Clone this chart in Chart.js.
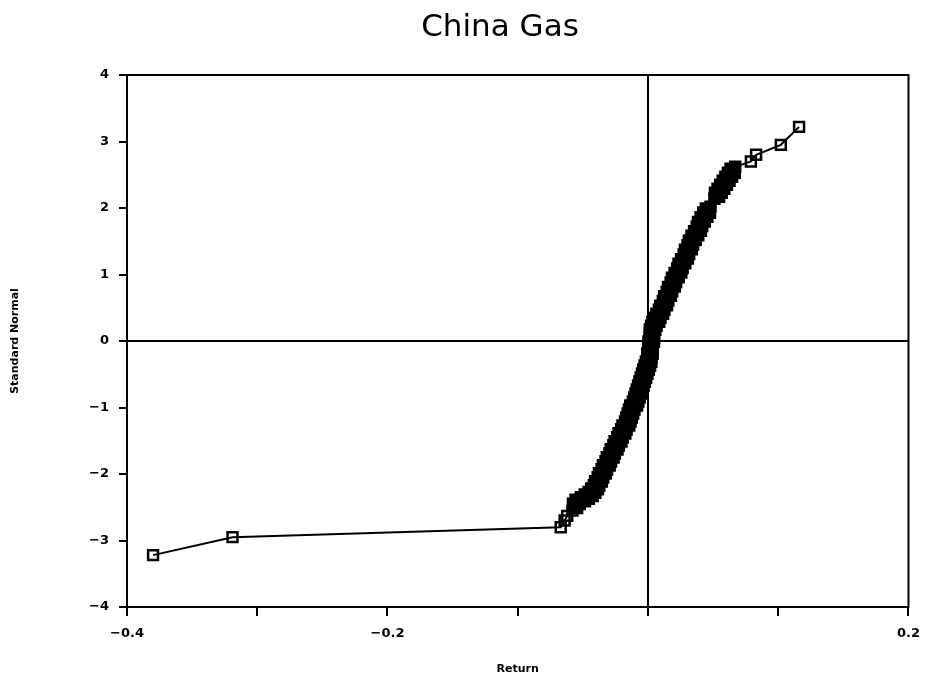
<!DOCTYPE html>
<html>
<head>
<meta charset="utf-8">
<script src="https://cdn.jsdelivr.net/npm/chart.js@4/dist/chart.umd.min.js"></script>
<style>
	html, body { margin: 0; padding: 0; background: #fff; }
	#wrap { width: 930px; height: 681px; }
</style>
</head>
<body>
<div id="wrap"><canvas id="chart" width="930" height="681"></canvas></div>
<script>
let titleText = "China Gas";
let xTitle = "Return";
let yTitle = "Standard Normal";

// sorted returns vs. standard normal quantiles
let returns = [
	-0.380, -0.319, -0.067, -0.064, -0.062, -0.058, -0.056, -0.054, -0.050, -0.047,
	-0.044, -0.042, -0.040, -0.039, -0.037, -0.036, -0.034, -0.033, -0.031, -0.030,
	-0.028, -0.027, -0.025, -0.024, -0.022, -0.021, -0.019, -0.018, -0.016, -0.015,
	-0.014, -0.013, -0.012, -0.010, -0.009, -0.008, -0.007, -0.006, -0.005, -0.004,
	-0.003, -0.002, -0.001, 0.000, 0.001, 0.001, 0.002, 0.002, 0.002, 0.003,
	0.003, 0.003, 0.004, 0.005, 0.007, 0.008, 0.010, 0.011, 0.013, 0.014,
	0.016, 0.017, 0.019, 0.020, 0.022, 0.024, 0.025, 0.027, 0.029, 0.030,
	0.032, 0.033, 0.035, 0.037, 0.039, 0.040, 0.042, 0.044, 0.046, 0.048,
	0.051, 0.053, 0.055, 0.057, 0.059, 0.061, 0.063, 0.065, 0.067, 0.079,
	0.083, 0.102, 0.116,
];
let normals = [
	-3.22, -2.95, -2.80, -2.70, -2.63, -2.55, -2.48, -2.42, -2.38, -2.34,
	-2.30, -2.25, -2.20, -2.14, -2.08, -2.02, -1.96, -1.90, -1.84, -1.78,
	-1.72, -1.66, -1.60, -1.54, -1.48, -1.42, -1.36, -1.30, -1.24, -1.18,
	-1.12, -1.06, -1.00, -0.94, -0.88, -0.82, -0.76, -0.70, -0.64, -0.58,
	-0.52, -0.46, -0.40, -0.34, -0.28, -0.22, -0.16, -0.10, -0.04, 0.02,
	0.08, 0.14, 0.20, 0.26, 0.32, 0.38, 0.44, 0.50, 0.57, 0.64,
	0.71, 0.78, 0.85, 0.92, 0.99, 1.06, 1.13, 1.20, 1.27, 1.34,
	1.41, 1.48, 1.55, 1.62, 1.69, 1.76, 1.83, 1.90, 1.96, 2.02,
	2.14, 2.20, 2.26, 2.32, 2.38, 2.44, 2.50, 2.56, 2.62, 2.70,
	2.80, 2.95, 3.22,
];
let xLabeled = [-0.4, -0.2, 0.2];

let fmt = (v) => {
	let s = String(Math.abs(Math.round(v * 10) / 10));
	return v < -1e-9 ? "\u2212" + s : s;
};

// markers in the packed middle of the curve print as a solid black band
let isPacked = (i) => {
	if (i <= 0 || i >= normals.length - 1) return false;
	return normals[i] - normals[i - 1] < 0.075 && normals[i + 1] - normals[i] < 0.075;
};

let whiteBg = {
	id: "whiteBg",
	beforeDraw: (chart) => {
		let ctx = chart.ctx;
		ctx.save();
		ctx.fillStyle = "#fff";
		ctx.fillRect(0, 0, chart.width, chart.height);
		ctx.restore();
	},
};

let frameAndTitle = {
	id: "frameAndTitle",
	afterDraw: (chart) => {
		let ctx = chart.ctx;
		let a = chart.chartArea;
		ctx.save();
		ctx.strokeStyle = "#000";
		ctx.lineWidth = 2;
		ctx.strokeRect(a.left, a.top, a.right - a.left, a.bottom - a.top);
		ctx.fillStyle = "#000";
		ctx.font = "31px 'DejaVu Sans'";
		ctx.textAlign = "center";
		ctx.textBaseline = "middle";
		ctx.fillText(titleText, 500, 28);
		ctx.restore();
	},
};

let renderChart = () => {
	let el = document.getElementById("chart");
	new Chart(el, {
		type: "line",
		data: {
			datasets: [
				{
					label: "China Gas",
					data: returns.map((r, i) => ({ x: r, y: normals[i] })),
					borderColor: "#000",
					borderWidth: 2,
					tension: 0,
					pointStyle: "rect",
					pointRadius: (c) => (isPacked(c.dataIndex) ? 10 : 7),
					pointBorderWidth: 2.5,
					pointBorderColor: "#000",
					pointBackgroundColor: (c) => (isPacked(c.dataIndex) ? "#000" : "rgba(0,0,0,0)"),
					fill: false,
				},
			],
		},
		options: {
			responsive: false,
			animation: false,
			layout: { padding: { top: 75, right: 17, bottom: 0, left: 0 } },
			plugins: {
				legend: { display: false },
				tooltip: { enabled: false },
				title: { display: false },
			},
			scales: {
				x: {
					type: "linear",
					min: -0.4,
					max: 0.2,
					afterFit: (s) => { s.height = 74; },
					ticks: {
						stepSize: 0.1,
						autoSkip: false,
						maxRotation: 0,
						padding: 10,
						color: "#000",
						font: { family: "'DejaVu Sans'", size: 13, weight: "bold" },
						callback: (v) => xLabeled.some((t) => Math.abs(t - v) < 1e-6) ? fmt(v) : "",
					},
					grid: {
						drawOnChartArea: true,
						drawTicks: true,
						tickLength: 9,
						tickColor: "#000",
						tickWidth: 2,
						lineWidth: 2,
						color: (c) => (c.tick && Math.abs(c.tick.value) < 1e-9 ? "#000" : "rgba(0,0,0,0)"),
					},
					border: { display: true, color: "#000", width: 2 },
					title: {
						display: true,
						text: xTitle,
						color: "#000",
						font: { family: "'DejaVu Sans'", size: 11, weight: "bold" },
						padding: { top: 0, bottom: 5 },
					},
				},
				y: {
					min: -4,
					max: 4,
					afterFit: (s) => { s.width = 127; },
					ticks: {
						stepSize: 1,
						padding: 10,
						color: "#000",
						font: { family: "'DejaVu Sans'", size: 13, weight: "bold" },
						callback: (v) => fmt(v),
					},
					grid: {
						drawOnChartArea: true,
						drawTicks: true,
						tickLength: 8,
						tickColor: "#000",
						tickWidth: 2,
						lineWidth: 2,
						color: (c) => (c.tick && Math.abs(c.tick.value) < 1e-9 ? "#000" : "rgba(0,0,0,0)"),
					},
					border: { display: true, color: "#000", width: 2 },
					title: {
						display: true,
						text: yTitle,
						color: "#000",
						font: { family: "'DejaVu Sans'", size: 11, weight: "bold" },
						padding: { top: 9, bottom: 4 },
					},
				},
			},
		},
		plugins: [whiteBg, frameAndTitle],
	});
};
renderChart();
</script>
</body>
</html>
